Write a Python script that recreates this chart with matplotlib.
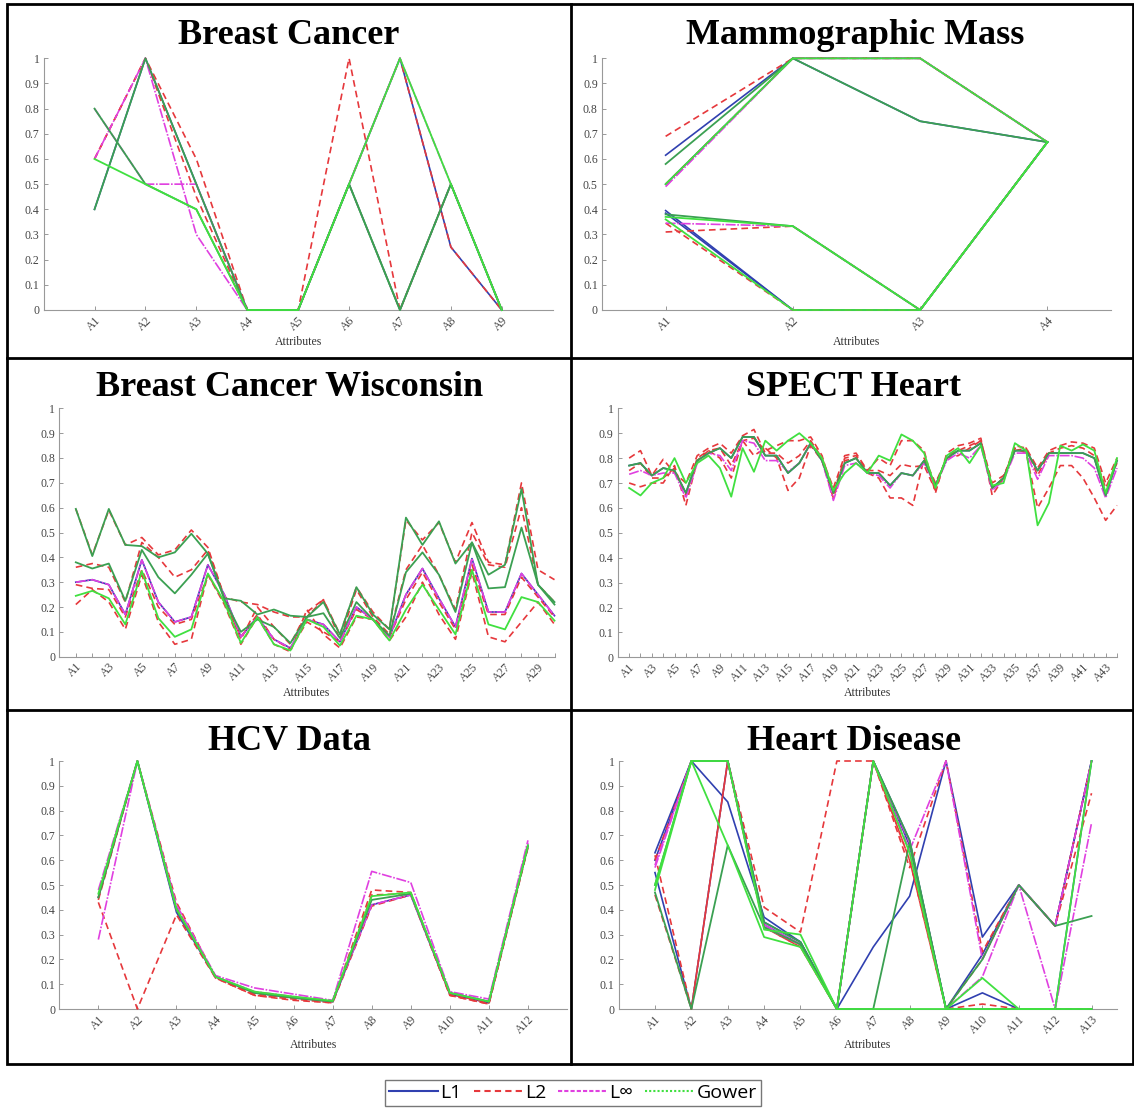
import matplotlib
matplotlib.use("Agg")
import matplotlib.pyplot as plt
from matplotlib.lines import Line2D
import numpy as np

plt.rcParams["font.family"] = "Liberation Serif"

# -------------------------
# Data (normalised attribute values per prototype)
# -------------------------
y_ticks = [0, 0.1, 0.2, 0.3, 0.4, 0.5, 0.6, 0.7, 0.8, 0.9, 1]
y_ticklabels = ["0", "0.1", "0.2", "0.3", "0.4", "0.5", "0.6", "0.7", "0.8", "0.9", "1"]

# Breast Cancer
bc_attrs = [f"A{i}" for i in range(1, 10)]
bc_l1 = [[0.4, 1.0, 0.5, 0.0, 0.0, 0.5, 1.0, 0.25, 0.0]]
bc_l2 = [[0.6, 1.0, 0.6, 0.0, 0.0, 1.0, 0.0, 0.5, 0.0],
         [0.6, 1.0, 0.45, 0.0, 0.0, 0.5, 1.0, 0.25, 0.0]]
bc_linf = [[0.6, 1.0, 0.3, 0.0, 0.0, 0.5, 1.0, 0.5, 0.0],
           [0.8, 0.5, 0.5, 0.0, 0.0, 0.5, 0.0, 0.5, 0.0]]
bc_gower = [[0.6, 0.5, 0.4, 0.0, 0.0, 0.5, 1.0, 0.5, 0.0]]
bc_gower_dark = [[0.8, 0.5, 0.4, 0.0, 0.0, 0.5, 0.0, 0.5, 0.0],
                 [0.4, 1.0, 0.5, 0.0, 0.0, 0.5, 0.0, 0.5, 0.0]]

# Mammographic Mass
mm_attrs = [f"A{i}" for i in range(1, 5)]
mm_l1 = [[0.615, 1.0, 1.0, 0.667], [0.5, 1.0, 0.75, 0.667],
         [0.395, 0.0, 0.0, 0.667], [0.385, 0.0, 0.0, 0.667]]
mm_l2 = [[0.69, 1.0, 1.0, 0.667], [0.5, 1.0, 1.0, 0.667],
         [0.31, 0.333, 0.0, 0.667], [0.345, 0.0, 0.0, 0.667]]
mm_linf = [[0.49, 1.0, 1.0, 0.667], [0.345, 0.333, 0.0, 0.667]]
mm_gower = [[0.5, 1.0, 1.0, 0.667], [0.37, 0.333, 0.0, 0.667], [0.36, 0.0, 0.0, 0.667]]
mm_gower_dark = [[0.58, 1.0, 0.75, 0.667], [0.38, 0.333, 0.0, 0.667]]

# Breast Cancer Wisconsin
bcw_attrs = [f"A{i}" for i in range(1, 31)]
bcw_l1 = [[0.30, 0.31, 0.29, 0.17, 0.39, 0.22, 0.14, 0.16, 0.37, 0.25, 0.08, 0.16, 0.07, 0.035, 0.15,
           0.13, 0.06, 0.20, 0.15, 0.08, 0.25, 0.355, 0.235, 0.12, 0.395, 0.18, 0.18, 0.335, 0.25, 0.165]]
bcw_l2 = [[0.595, 0.41, 0.59, 0.45, 0.48, 0.41, 0.43, 0.51, 0.44, 0.24, 0.22, 0.21, 0.18, 0.16, 0.16,
           0.23, 0.09, 0.28, 0.18, 0.11, 0.55, 0.47, 0.54, 0.38, 0.54, 0.38, 0.37, 0.70, 0.35, 0.31],
          [0.36, 0.375, 0.36, 0.22, 0.46, 0.40, 0.32, 0.35, 0.43, 0.24, 0.07, 0.20, 0.12, 0.05, 0.18,
           0.23, 0.07, 0.27, 0.16, 0.09, 0.35, 0.45, 0.33, 0.19, 0.50, 0.37, 0.36, 0.60, 0.29, 0.22],
          [0.29, 0.275, 0.27, 0.16, 0.35, 0.20, 0.13, 0.15, 0.33, 0.22, 0.08, 0.17, 0.07, 0.03, 0.14,
           0.10, 0.06, 0.19, 0.15, 0.08, 0.23, 0.34, 0.22, 0.11, 0.37, 0.17, 0.17, 0.32, 0.24, 0.16],
          [0.21, 0.27, 0.22, 0.11, 0.33, 0.14, 0.05, 0.07, 0.33, 0.21, 0.05, 0.16, 0.05, 0.02, 0.19,
           0.09, 0.035, 0.16, 0.15, 0.065, 0.16, 0.30, 0.17, 0.07, 0.34, 0.08, 0.06, 0.14, 0.22, 0.13]]
bcw_linf = [[0.30, 0.31, 0.29, 0.17, 0.39, 0.22, 0.14, 0.16, 0.37, 0.25, 0.08, 0.16, 0.07, 0.035, 0.15,
             0.13, 0.06, 0.20, 0.15, 0.08, 0.25, 0.355, 0.235, 0.12, 0.395, 0.18, 0.18, 0.335, 0.25, 0.165]]
bcw_gower = [[0.245, 0.265, 0.235, 0.13, 0.345, 0.155, 0.08, 0.11, 0.335, 0.22, 0.055, 0.16, 0.05, 0.025, 0.15,
              0.12, 0.045, 0.165, 0.15, 0.065, 0.19, 0.29, 0.19, 0.09, 0.35, 0.13, 0.11, 0.24, 0.22, 0.145]]
bcw_gower_dark = [[0.595, 0.405, 0.595, 0.45, 0.445, 0.40, 0.42, 0.495, 0.415, 0.235, 0.225, 0.17, 0.19, 0.165, 0.16,
                   0.22, 0.09, 0.28, 0.17, 0.11, 0.56, 0.45, 0.545, 0.375, 0.46, 0.33, 0.37, 0.675, 0.29, 0.22],
                  [0.38, 0.355, 0.375, 0.225, 0.43, 0.32, 0.255, 0.33, 0.415, 0.23, 0.10, 0.15, 0.12, 0.055, 0.16,
                   0.175, 0.075, 0.22, 0.15, 0.085, 0.34, 0.42, 0.33, 0.18, 0.46, 0.275, 0.28, 0.52, 0.29, 0.21]]

# SPECT Heart
sp_attrs = [f"A{i}" for i in range(1, 45)]
sp_l1 = [[0.77, 0.78, 0.73, 0.76, 0.75, 0.66, 0.79, 0.82, 0.84, 0.80, 0.885, 0.885, 0.81, 0.81, 0.74,
          0.78, 0.86, 0.79, 0.66, 0.78, 0.80, 0.74, 0.74, 0.69, 0.74, 0.73, 0.79, 0.69, 0.80, 0.83,
          0.83, 0.86, 0.68, 0.72, 0.83, 0.83, 0.75, 0.82, 0.82, 0.82, 0.82, 0.80, 0.65, 0.79]]
sp_l2 = [[0.80, 0.83, 0.73, 0.795, 0.74, 0.70, 0.81, 0.84, 0.86, 0.82, 0.89, 0.915, 0.82, 0.82, 0.78,
          0.81, 0.87, 0.80, 0.68, 0.81, 0.82, 0.75, 0.80, 0.77, 0.87, 0.87, 0.83, 0.66, 0.82, 0.85,
          0.86, 0.88, 0.65, 0.72, 0.85, 0.84, 0.76, 0.83, 0.85, 0.865, 0.86, 0.84, 0.70, 0.80],
         [0.75, 0.78, 0.72, 0.72, 0.76, 0.65, 0.80, 0.83, 0.80, 0.72, 0.87, 0.81, 0.84, 0.80, 0.67,
          0.72, 0.85, 0.79, 0.64, 0.79, 0.80, 0.74, 0.72, 0.64, 0.64, 0.61, 0.80, 0.70, 0.80, 0.81,
          0.84, 0.87, 0.68, 0.72, 0.84, 0.82, 0.60, 0.68, 0.77, 0.77, 0.72, 0.64, 0.55, 0.61],
         [0.70, 0.685, 0.70, 0.70, 0.77, 0.61, 0.79, 0.83, 0.84, 0.77, 0.87, 0.88, 0.83, 0.85, 0.87,
          0.87, 0.885, 0.81, 0.66, 0.80, 0.81, 0.75, 0.75, 0.73, 0.775, 0.765, 0.77, 0.67, 0.81, 0.83,
          0.85, 0.87, 0.70, 0.73, 0.83, 0.84, 0.73, 0.82, 0.84, 0.85, 0.84, 0.81, 0.68, 0.78]]
sp_linf = [[0.735, 0.75, 0.73, 0.74, 0.74, 0.64, 0.78, 0.82, 0.81, 0.75, 0.87, 0.86, 0.79, 0.79, 0.745,
            0.78, 0.86, 0.79, 0.63, 0.77, 0.78, 0.74, 0.73, 0.68, 0.74, 0.73, 0.78, 0.69, 0.79, 0.82,
            0.80, 0.85, 0.67, 0.71, 0.82, 0.82, 0.715, 0.81, 0.81, 0.81, 0.80, 0.76, 0.64, 0.76]]
sp_gower = [[0.68, 0.65, 0.70, 0.72, 0.80, 0.70, 0.78, 0.81, 0.76, 0.645, 0.84, 0.745, 0.87, 0.83, 0.87,
             0.90, 0.86, 0.80, 0.67, 0.74, 0.78, 0.74, 0.81, 0.79, 0.895, 0.87, 0.82, 0.68, 0.81, 0.84,
             0.78, 0.85, 0.69, 0.70, 0.86, 0.83, 0.53, 0.62, 0.85, 0.83, 0.855, 0.83, 0.66, 0.80]]
sp_gower_dark = [[0.77, 0.78, 0.73, 0.76, 0.75, 0.66, 0.79, 0.82, 0.84, 0.80, 0.885, 0.885, 0.81, 0.81, 0.74,
                  0.78, 0.86, 0.79, 0.66, 0.78, 0.80, 0.74, 0.74, 0.69, 0.74, 0.73, 0.79, 0.69, 0.80, 0.83,
                  0.83, 0.86, 0.68, 0.72, 0.83, 0.83, 0.75, 0.82, 0.82, 0.82, 0.82, 0.80, 0.65, 0.79]]

# HCV Data
hcv_attrs = [f"A{i}" for i in range(1, 13)]
hcv_l1 = [[0.45, 1.0, 0.39, 0.13, 0.065, 0.045, 0.03, 0.42, 0.46, 0.06, 0.025, 0.66]]
hcv_l2 = [[0.43, 0.0, 0.38, 0.125, 0.055, 0.04, 0.025, 0.46, 0.465, 0.055, 0.02, 0.655],
          [0.44, 1.0, 0.43, 0.13, 0.06, 0.045, 0.03, 0.48, 0.47, 0.06, 0.025, 0.66],
          [0.45, 1.0, 0.41, 0.125, 0.055, 0.035, 0.025, 0.415, 0.46, 0.055, 0.02, 0.65]]
hcv_linf = [[0.48, 1.0, 0.42, 0.135, 0.085, 0.06, 0.035, 0.555, 0.51, 0.07, 0.04, 0.68],
            [0.28, 1.0, 0.40, 0.13, 0.07, 0.05, 0.03, 0.42, 0.46, 0.065, 0.03, 0.67]]
hcv_gower = [[0.465, 1.0, 0.405, 0.13, 0.07, 0.05, 0.033, 0.455, 0.47, 0.065, 0.03, 0.66]]
hcv_gower_dark = [[0.45, 1.0, 0.40, 0.13, 0.065, 0.045, 0.03, 0.44, 0.465, 0.065, 0.03, 0.655]]

# Heart Disease
hd_attrs = [f"A{i}" for i in range(1, 14)]
hd_l1 = [[0.63, 1.0, 0.835, 0.37, 0.27, 0.0, 0.25, 0.455, 1.0, 0.29, 0.5, 0.335, 1.0],
         [0.55, 0.0, 1.0, 0.35, 0.27, 0.0, 1.0, 0.68, 0.0, 0.065, 0.0, 0.0, 1.0],
         [0.6, 1.0, 1.0, 0.34, 0.26, 0.0, 1.0, 0.66, 0.0, 0.22, 0.5, 0.335, 1.0]]
hd_l2 = [[0.46, 0.0, 1.0, 0.41, 0.31, 1.0, 1.0, 0.57, 1.0, 0.23, 0.5, 0.335, 0.87],
         [0.62, 0.0, 1.0, 0.33, 0.25, 0.0, 1.0, 0.6, 0.0, 0.02, 0.0, 0.0, 0.0],
         [0.6, 1.0, 1.0, 0.33, 0.25, 0.0, 1.0, 0.6, 0.0, 0.2, 0.5, 0.335, 1.0]]
hd_linf = [[0.58, 1.0, 1.0, 0.34, 0.26, 0.0, 1.0, 0.67, 0.0, 0.13, 0.5, 0.0, 0.75],
           [0.57, 1.0, 1.0, 0.33, 0.26, 0.0, 1.0, 0.64, 1.0, 0.2, 0.5, 0.335, 1.0]]
hd_gower = [[0.48, 1.0, 0.66, 0.29, 0.25, 0.0, 1.0, 0.63, 0.0, 0.125, 0.0, 0.0, 1.0],
            [0.5, 1.0, 1.0, 0.32, 0.3, 0.0, 0.0, 0.0, 0.0, 0.0, 0.0, 0.0, 0.0]]
hd_gower_dark = [[0.5, 1.0, 1.0, 0.35, 0.27, 0.0, 0.0, 0.67, 0.0, 0.2, 0.5, 0.335, 0.375],
                 [0.47, 0.0, 0.66, 0.33, 0.26, 0.0, 1.0, 0.68, 0.0, 0.0, 0.0, 0.0, 0.0]]

# -------------------------
# Styles
# -------------------------
C_L1 = "#3040b0"
C_L2 = "#e6383c"
C_LINF = "#e040e0"
C_GOWER = "#40e040"
C_GOWER_DARK = "#3ba052"
LS_L2 = (0, (4, 2.5))
LS_LINF = (0, (6, 1, 1, 1))

W, H = 1134, 1108
fig = plt.figure(figsize=(W / 100, H / 100), dpi=100)


def px_axes(left, right, top, bottom):
    return fig.add_axes([left / W, 1 - bottom / H, (right - left) / W, (bottom - top) / H])


def draw_panel(box, title, title_xy, attrs, l1, l2, linf, gower, gower_dark, xlim, step=1):
    ax = px_axes(*box)
    x = np.arange(1, len(attrs) + 1)
    for row in l1:
        ax.plot(x, row, color=C_L1, lw=1.2, clip_on=False)
    for row in l2:
        ax.plot(x, row, color=C_L2, lw=1.2, ls=LS_L2, clip_on=False)
    for row in linf:
        ax.plot(x, row, color=C_LINF, lw=1.2, ls=LS_LINF, clip_on=False)
    for row in gower_dark:
        ax.plot(x, row, color=C_GOWER_DARK, lw=1.3, clip_on=False)
    for row in gower:
        ax.plot(x, row, color=C_GOWER, lw=1.3, clip_on=False)

    ax.set_xlim(*xlim)
    ax.set_ylim(0, 1)
    ax.set_xticks(x)
    ax.set_xticklabels([a if i % step == 0 else "" for i, a in enumerate(attrs)],
                       rotation=45, ha="right", rotation_mode="anchor")
    ax.set_yticks(y_ticks)
    ax.set_yticklabels(y_ticklabels)
    ax.tick_params(direction="in", length=3, width=0.7, color="#999999",
                   labelcolor="#444444", labelsize=8.5, pad=3)
    for s in ["top", "right"]:
        ax.spines[s].set_visible(False)
    for s in ["left", "bottom"]:
        ax.spines[s].set_color("#999999")
        ax.spines[s].set_linewidth(0.8)
        ax.spines[s].set_zorder(0.5)
    ax.set_xlabel("Attributes", fontsize=8.5, color="#333333", labelpad=2)
    fig.text(title_xy[0] / W, 1 - title_xy[1] / H, title, ha="center", va="center",
             fontsize=26, fontweight="bold", color="black")
    return ax


draw_panel((43.6, 552.7, 58.3, 310), "Breast Cancer", (289, 35), bc_attrs,
           bc_l1, bc_l2, bc_linf, bc_gower, bc_gower_dark, (0, 10))
draw_panel((602, 1111, 58.3, 310), "Mammographic Mass", (855, 35), mm_attrs,
           mm_l1, mm_l2, mm_linf, mm_gower, mm_gower_dark, (0.5, 4.5))
draw_panel((59.3, 554.5, 408.3, 656.7), "Breast Cancer Wisconsin", (290, 387), bcw_attrs,
           bcw_l1, bcw_l2, bcw_linf, bcw_gower, bcw_gower_dark, (0, 30), step=2)
draw_panel((617.8, 1117, 408.3, 657.3), "SPECT Heart", (854, 387), sp_attrs,
           sp_l1, sp_l2, sp_linf, sp_gower, sp_gower_dark, (0, 44), step=2)
draw_panel((59.3, 567, 761, 1009), "HCV Data", (290, 741), hcv_attrs,
           hcv_l1, hcv_l2, hcv_linf, hcv_gower, hcv_gower_dark, (0, 13))
draw_panel((618.6, 1117, 761, 1009), "Heart Disease", (854, 741), hd_attrs,
           hd_l1, hd_l2, hd_linf, hd_gower, hd_gower_dark, (0, 13.7))

# panel frames
fig.add_artist(plt.Rectangle((7 / W, 1 - 1064 / H), (1133 - 7) / W, (1064 - 4) / H,
                             transform=fig.transFigure, fill=False, lw=2, ec="black"))
fig.add_artist(Line2D([571 / W, 571 / W], [1 - 1064 / H, 1 - 4 / H], transform=fig.transFigure,
                      color="black", lw=2))
for yy in [358, 710]:
    fig.add_artist(Line2D([7 / W, 1133 / W], [1 - yy / H, 1 - yy / H], transform=fig.transFigure,
                          color="black", lw=2))

# legend
handles = [Line2D([], [], color=C_L1, lw=1.5),
           Line2D([], [], color=C_L2, lw=1.5, ls=(0, (3, 2))),
           Line2D([], [], color=C_LINF, lw=1.5, ls=(0, (2, 1))),
           Line2D([], [], color=C_GOWER, lw=1.5, ls=(0, (1, 1)))]
leg = fig.legend(handles, ["L1", "L2", "L\u221e", "Gower"], loc="center",
                 bbox_to_anchor=(573 / W, 1 - 1093 / H), ncol=4, frameon=True, fancybox=False,
                 prop={"family": ["Open Sans", "DejaVu Sans"], "size": 14}, handlelength=2.5,
                 handletextpad=0.15, columnspacing=0.6, borderpad=0.2, borderaxespad=0)
leg.get_frame().set_edgecolor("#555555")
leg.get_frame().set_linewidth(1.0)

fig.savefig("out.png", dpi=100)
